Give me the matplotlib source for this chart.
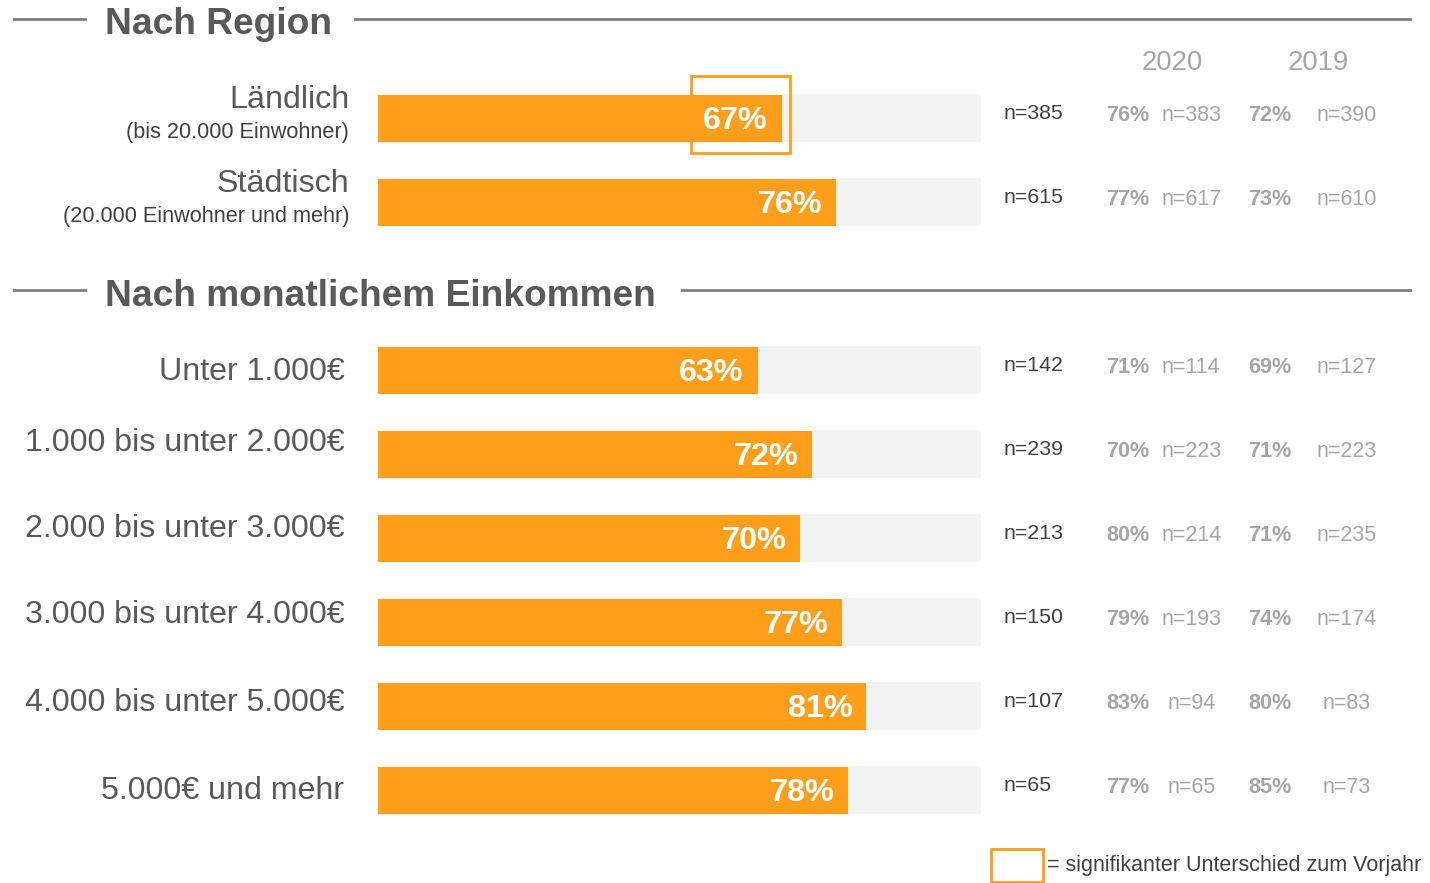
import matplotlib.pyplot as plt
from matplotlib.patches import Rectangle

plt.rcParams['font.family'] = ['Liberation Sans', 'DejaVu Sans']

# data
labels = ["Ländlich", "Städtisch", "Unter 1.000€", "1.000 bis unter 2.000€",
          "2.000 bis unter 3.000€", "3.000 bis unter 4.000€",
          "4.000 bis unter 5.000€", "5.000€ und mehr"]
sublabels = ["(bis 20.000 Einwohner)", "(20.000 Einwohner und mehr)",
             "", "", "", "", "", ""]
rows = [0, 1, 3, 4, 5, 6, 7, 8]
values = [67, 76, 63, 72, 70, 77, 81, 78]
n_now = [385, 615, 142, 239, 213, 150, 107, 65]
pct_2020 = [76, 77, 71, 70, 80, 79, 83, 77]
n_2020 = [383, 617, 114, 223, 214, 193, 94, 65]
pct_2019 = [72, 73, 69, 71, 71, 74, 80, 85]
n_2019 = [390, 610, 127, 223, 235, 174, 83, 73]
significant = [True, False, False, False, False, False, False, False]
sections = ["Nach Region", "Nach monatlichem Einkommen"]
section_rows = [-1.18, 2.05]
years = ["2020", "2019"]

ORANGE = "#FF9E1B"
BG = "#F2F2F2"
DARK = "#595959"
NCOL = "#404040"
LIGHT = "#A6A6A6"
LINE = "#808080"

fig = plt.figure(figsize=(14.3, 8.83), dpi=100)
ax = fig.add_axes([0, 0, 1, 1])
# 1 x unit = 6.04 px, bars start at px 377; 1 row = 84 px, row 0 at px 118
ax.set_xlim(-377 / 6.04, 1053 / 6.04)
ax.set_ylim(765 / 84, -118 / 84)
ax.axis("off")

h = 0.56
ax.barh(rows, [100] * len(rows), height=h, color=BG, zorder=1)
ax.barh(rows, values, height=h, color=ORANGE, edgecolor="white",
        linewidth=0.6, zorder=2)

label_dy = [0, 0, 0.02, -0.13, -0.11, -0.08, -0.03, 0.01]
for i, r in enumerate(rows):
    v = values[i]
    ax.text(v - 2.3, r + 0.04, f"{v}%", ha="right", va="center",
            color="white", fontsize=23.3, fontweight="bold", zorder=4)
    if sublabels[i]:
        ax.text(-4.6, r - 0.215, labels[i], ha="right", va="center",
                color=DARK, fontsize=23.2)
        ax.text(-4.6, r + 0.175, sublabels[i], ha="right", va="center",
                color=NCOL, fontsize=15.6)
    else:
        ax.text(-5.4, r + label_dy[i], labels[i], ha="right", va="center",
                color=DARK, fontsize=23.1)
    ax.text(103.8, r - 0.055, f"n={n_now[i]}", ha="left", va="center",
            color=NCOL, fontsize=15.4)
    ax.text(124.3, r - 0.035, f"{pct_2020[i]}%", ha="center", va="center",
            color=LIGHT, fontsize=15.6, fontweight="bold")
    ax.text(134.8, r - 0.035, f"n={n_2020[i]}", ha="center", va="center",
            color=LIGHT, fontsize=15.5)
    ax.text(147.8, r - 0.035, f"{pct_2019[i]}%", ha="center", va="center",
            color=LIGHT, fontsize=15.6, fontweight="bold")
    ax.text(160.5, r - 0.035, f"n={n_2019[i]}", ha="center", va="center",
            color=LIGHT, fontsize=15.5)
    if significant[i]:
        ax.add_patch(Rectangle((v - 15.0, r - 0.5), 16.4, 0.917,
                               fill=False, edgecolor=ORANGE, lw=2, zorder=5))

# column headers
for x, yr in zip([131.6, 155.8], years):
    ax.text(x, -0.66, yr, ha="center", va="center", color=LIGHT, fontsize=19.8)

# section headings with rules
heading_ends = [355, 682]
for s, yr, xe in zip(sections, section_rows, heading_ends):
    ax.plot([(14 - 377) / 6.04, (85 - 377) / 6.04], [yr, yr], color=LINE, lw=2)
    ax.plot([(xe - 377) / 6.04, (1410 - 377) / 6.04], [yr, yr], color=LINE, lw=2)
    ax.text((105 - 377) / 6.04, yr + 0.07, s, ha="left", va="center",
            color=DARK, fontsize=26.7, fontweight="bold")

# legend
ax.add_patch(Rectangle(((991 - 377) / 6.04, (849 - 118) / 84), 52 / 6.04, 33 / 84,
                       fill=False, edgecolor=ORANGE, lw=2, clip_on=False))
ax.text((1047 - 377) / 6.04, (866 - 118) / 84, "= signifikanter Unterschied zum Vorjahr",
        ha="left", va="center", color=NCOL, fontsize=15.5)

fig.savefig("out.png", dpi=100)
